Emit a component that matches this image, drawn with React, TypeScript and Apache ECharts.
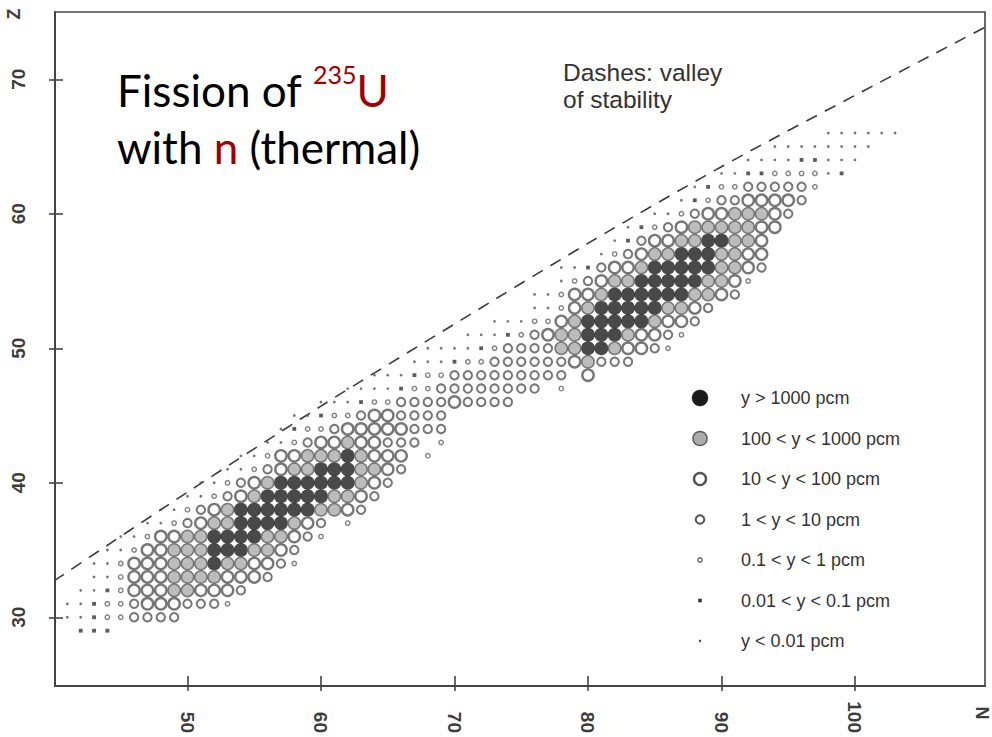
import React, { useEffect, useRef } from "react";
import * as echarts from "echarts";

// Proton number of each row of the chart
const zValues = [
  29, 30, 31, 32, 33, 34, 35, 36, 37, 38, 39, 40, 41, 42, 43, 44, 45, 46, 47,
  48, 49, 50, 51, 52, 53, 54, 55, 56, 57, 58, 59, 60, 61, 62, 63, 64, 65, 66,
];
// Neutron number of the first nuclide drawn in each row
const nFirst = [
  42, 41, 41, 42, 43, 43, 44, 45, 47, 48, 50, 51, 53, 54, 56, 57, 58, 60, 62,
  64, 67, 68, 71, 73, 76, 76, 78, 78, 81, 82, 83, 85, 87, 88, 90, 92, 94, 98,
];
// Yield class of each successive nuclide in the row
// B: y>1000, G: 100-1000, L: 10-100, M: 1-10, s: 0.1-1, q: 0.01-0.1, d: <0.01 pcm, ".": none
const yieldCodes = [
  "qqq",
  "ddqssMMMM",
  "ddqssMLLLMMMs",
  "ddqsLLLGGLLLM",
  "ddsLLLGGGGLLLM",
  "ddsLLLGGGBGGLLMs",
  "ddsLLGGGBBBGGLM",
  "ddsLLGGBBBBGGLMs",
  "ddsMLGGBBBBGLM.s",
  "ddsMLGBBBBBBGGLM",
  "ddsMLGBBBBBGGLM",
  "ddsMLGBBBBBBGLM",
  "ddsMLGGBBBGGLM",
  "ddsLLGGGBGLLL.s",
  "ddsMLLGLLMMM.s",
  "dqssMLLLLLMMM",
  "ddqssMLLMMMM",
  "dddqssMMMMLMMMM",
  "ddddqssMMMMMMMM.s",
  "dddqssMMMMMMMMM.L",
  "dddqssMMMMMMLGMMM",
  "ddddqsMMMMGGBBGLLMs",
  "dddqsMLGGBBBGLLMs",
  "dddssLGBBBBBGLLM",
  "ddsLGBBBBBGGLM",
  "ddsLLGBBBBBBGGLM",
  "dsMLGGBBBBBGGLs",
  "ddqMLLGBBBBBGGLM",
  "dsMLGGBBBGGLL",
  "dqMLLGGBBGGL",
  "dqsMLGGGGGLL",
  "ddsMLLGGGLM",
  "dqsMMLLLLM",
  "dqssMMMMMs",
  "ddqqssssdq",
  "ddddqqddd",
  "dddddddd",
  "dddddd",
];

const categoryCodes = ["B", "G", "L", "M", "s", "q", "d"];
const categoryLabels = [
  "y > 1000 pcm",
  "100 < y < 1000 pcm",
  "10 < y < 100 pcm",
  "1 < y < 10 pcm",
  "0.1 < y < 1 pcm",
  "0.01 < y < 0.1 pcm",
  "y < 0.01 pcm",
];

// Valley of stability (dashed line)
const valleyN = [40, 50, 60, 70, 80, 90, 100, 110];
const valleyZ = [32.7, 39.3, 45.7, 51.8, 57.8, 63.5, 68.8, 74.0];

const xTicks = [50, 60, 70, 80, 90, 100];
const yTicks = [30, 40, 50, 60, 70];

const X_MIN = 40.075;
const X_MAX = 109.74;
const Y_MIN = 24.89;
const Y_MAX = 75.0;

const STYLES: Record<string, any> = {
  B: { symbol: "circle", size: 14, item: { color: "#1b1b1b" } },
  G: { symbol: "circle", size: 12.4, item: { color: "#ababab", borderColor: "#5e5e5e", borderWidth: 1.5 } },
  L: { symbol: "circle", size: 11.4, item: { color: "#ffffff", borderColor: "#555555", borderWidth: 2.4 } },
  M: { symbol: "circle", size: 8.4, item: { color: "#ffffff", borderColor: "#555555", borderWidth: 2 } },
  s: { symbol: "circle", size: 4.4, item: { color: "#ffffff", borderColor: "#606060", borderWidth: 1.4 } },
  q: { symbol: "rect", size: 3.8, item: { color: "#333333" } },
  d: { symbol: "circle", size: 2.8, item: { color: "#555555" } },
};

const LEGEND_SHAPES: Record<string, any> = {
  B: { r: 8, fill: "#1b1b1b", stroke: "#1b1b1b", lw: 0.5 },
  G: { r: 7, fill: "#ababab", stroke: "#5e5e5e", lw: 1.5 },
  L: { r: 6, fill: "#ffffff", stroke: "#555555", lw: 2.4 },
  M: { r: 4.3, fill: "#ffffff", stroke: "#555555", lw: 2 },
  s: { r: 2.2, fill: "#ffffff", stroke: "#606060", lw: 1.3 },
  q: { r: 1.8, fill: "#333333", stroke: "#333333", lw: 0 },
  d: { r: 1.3, fill: "#555555", stroke: "#555555", lw: 0 },
};

function buildPoints() {
  const pts: Record<string, number[][]> = {};
  categoryCodes.forEach((c) => (pts[c] = []));
  zValues.forEach((z, i) => {
    const codes = yieldCodes[i];
    for (let k = 0; k < codes.length; k++) {
      const c = codes[k];
      if (pts[c]) pts[c].push([nFirst[i] + k, z]);
    }
  });
  return pts;
}

export default function App() {
  const ref = useRef<HTMLDivElement>(null);

  useEffect(() => {
    if (!ref.current) return;
    const chart = echarts.init(ref.current, undefined, { renderer: "svg" });
    const pts = buildPoints();

    const axisLabelStyle = {
      fontSize: 19,
      fontWeight: "bold" as const,
      color: "#3c3c3c",
      fontFamily: "Liberation Sans, Arial, sans-serif",
    };
    const tickLine = { color: "#444", width: 1.6 };

    const scatterSeries = categoryCodes.map((c, i) => ({
      name: categoryLabels[i],
      type: "scatter",
      xAxisIndex: 0,
      yAxisIndex: 0,
      symbol: STYLES[c].symbol,
      symbolSize: STYLES[c].size,
      itemStyle: STYLES[c].item,
      data: pts[c],
      silent: true,
      z: 3,
    }));

    const legendGraphics: any[] = [];
    categoryCodes.forEach((c, i) => {
      const cy = 398 + i * 40.5;
      const s = LEGEND_SHAPES[c];
      if (c === "q") {
        legendGraphics.push({
          type: "rect",
          shape: { x: 700 - s.r, y: cy - s.r, width: s.r * 2, height: s.r * 2 },
          style: { fill: s.fill },
        });
      } else {
        legendGraphics.push({
          type: "circle",
          shape: { cx: 700, cy, r: s.r },
          style: { fill: s.fill, stroke: s.stroke, lineWidth: s.lw },
        });
      }
      legendGraphics.push({
        type: "text",
        x: 741,
        y: cy,
        style: {
          text: categoryLabels[i],
          fontSize: 18,
          fontFamily: "Liberation Sans, Arial, sans-serif",
          fill: "#333",
          verticalAlign: "middle",
          align: "left",
        },
      });
    });

    const option: any = {
      animation: false,
      backgroundColor: "#ffffff",
      grid: {
        left: 55,
        top: 12,
        right: 7,
        bottom: 51,
        show: true,
        borderColor: "#444",
        borderWidth: 1.6,
        containLabel: false,
        outerBoundsMode: "none",
      },
      xAxis: [
        {
          type: "value",
          gridIndex: 0,
          position: "bottom",
          min: X_MIN,
          max: X_MAX,
          splitLine: { show: false },
          axisLine: { show: true, lineStyle: { color: "#444", width: 2 } },
          axisTick: { show: true, inside: false, length: 5, customValues: xTicks, lineStyle: tickLine },
          axisLabel: {
            ...axisLabelStyle,
            customValues: xTicks,
            rotate: -90,
            margin: 47,
            align: "right",
            verticalAlign: "middle",
          },
        },
        {
          type: "value",
          gridIndex: 0,
          position: "bottom",
          min: X_MIN,
          max: X_MAX,
          splitLine: { show: false },
          axisLine: { show: false },
          axisLabel: { show: false },
          axisTick: { show: true, inside: true, length: 10, customValues: xTicks, lineStyle: tickLine },
        },
      ],
      yAxis: [
        {
          type: "value",
          gridIndex: 0,
          position: "left",
          min: Y_MIN,
          max: Y_MAX,
          splitLine: { show: false },
          axisLine: { show: true, lineStyle: { color: "#444", width: 2 } },
          axisTick: { show: true, inside: false, length: 6, customValues: yTicks, lineStyle: tickLine },
          axisLabel: { ...axisLabelStyle, customValues: yTicks, rotate: 90, margin: 27 },
        },
        {
          type: "value",
          gridIndex: 0,
          position: "left",
          min: Y_MIN,
          max: Y_MAX,
          splitLine: { show: false },
          axisLine: { show: false },
          axisLabel: { show: false },
          axisTick: { show: true, inside: true, length: 8, customValues: yTicks, lineStyle: tickLine },
        },
      ],
      series: [
        {
          name: "valley of stability",
          type: "line",
          xAxisIndex: 0,
          yAxisIndex: 0,
          data: valleyN.map((n, i) => [n, valleyZ[i]]),
          smooth: 0.3,
          showSymbol: false,
          silent: true,
          lineStyle: { color: "#3a3a3a", width: 1.6, type: [12, 9] },
          z: 2,
        },
        ...scatterSeries,
      ],
      graphic: [
        {
          type: "text",
          x: 14,
          y: 14,
          rotation: Math.PI / 2,
          style: {
            text: "Z",
            fontSize: 18,
            fontWeight: "bold",
            fontFamily: "Liberation Sans, Arial, sans-serif",
            fill: "#3c3c3c",
            align: "center",
            verticalAlign: "middle",
          },
        },
        {
          type: "text",
          x: 982,
          y: 713,
          rotation: -Math.PI / 2,
          style: {
            text: "N",
            fontSize: 18,
            fontWeight: "bold",
            fontFamily: "Liberation Sans, Arial, sans-serif",
            fill: "#3c3c3c",
            align: "center",
            verticalAlign: "middle",
          },
        },
        {
          type: "text",
          x: 117,
          y: 61,
          style: {
            text: "{a|Fission of }{s|235}{r|U}\n{a|with }{r|n}{a| (thermal)}",
            fontFamily: "Lato, sans-serif",
            rich: {
              a: { fontSize: 44, lineHeight: 57, fill: "#000000", fontFamily: "Lato, sans-serif" },
              r: { fontSize: 44, lineHeight: 57, fill: "#a00000", fontFamily: "Lato, sans-serif" },
              s: { fontSize: 25, lineHeight: 37, verticalAlign: "top", fill: "#a00000", fontFamily: "Lato, sans-serif" },
            },
          },
        },
        {
          type: "text",
          x: 563,
          y: 59,
          style: {
            text: "Dashes: valley\nof stability",
            fontSize: 24.5,
            lineHeight: 27,
            fontFamily: "Liberation Sans, Arial, sans-serif",
            fill: "#333",
          },
        },
        ...legendGraphics,
      ],
    };

    chart.setOption(option);
    return () => chart.dispose();
  }, []);

  return (
    <div
      ref={ref}
      style={{ position: "fixed", left: 0, top: 0, width: 992, height: 737, background: "#fff" }}
    />
  );
}
